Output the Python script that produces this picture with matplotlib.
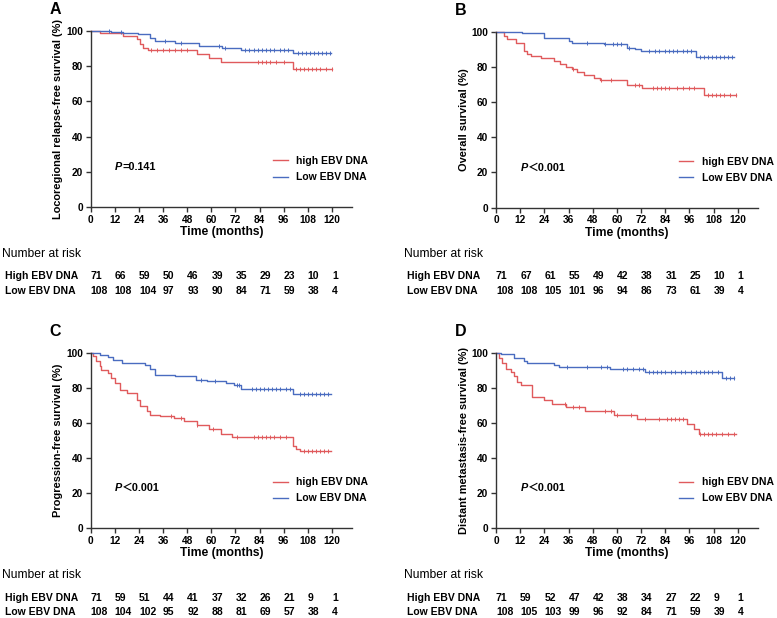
import numpy as np
import matplotlib
matplotlib.use("Agg")
import matplotlib.pyplot as plt
from matplotlib.transforms import blended_transform_factory

plt.rcParams['font.family'] = ['Liberation Sans', 'Noto Sans CJK SC', 'DejaVu Sans']

RED = '#e05a5c'
BLUE = '#4a6cc0'
AXC = '#333333'

# ---- data (time in months, survival in %) ----
a_high_t = [0, 4.5, 16, 23, 24.5, 26, 28.7, 53, 58.8, 64.7, 100.6]
a_high_s = [100, 99, 97.2, 95.3, 92.4, 90.5, 89.2, 86.7, 84.9, 82.6, 78.2]
a_high_end = 120
a_low_t = [0, 10.3, 16.2, 23.7, 29.6, 32, 42, 53.8, 65.5, 74.7, 100.6]
a_low_s = [100, 99.4, 99, 98.2, 96.2, 94.3, 93.4, 91.5, 90.5, 89.2, 87.7]
a_low_end = 119.4
a_high_cens = [30, 33, 36, 39, 42, 45, 48, 83, 85, 87, 89, 92, 96, 102, 104, 106, 108, 110, 112, 114, 117, 120]
a_low_cens = [9, 15, 37, 45, 64, 67, 77, 79, 81, 83, 85, 87, 89, 91, 94, 96, 98, 103, 105, 107, 109, 111, 113, 115, 117, 119]

b_high_t = [0, 4, 5.6, 9.8, 13.9, 15.5, 17.2, 22.2, 28.7, 32, 34.5, 37.8, 40.3, 43.6, 48.5, 51.8, 65, 72.5, 103]
b_high_s = [100, 97.5, 95.6, 93.7, 89, 87.1, 86.1, 84.8, 83.3, 81.4, 80, 78.5, 77.1, 75.6, 73.7, 72.4, 69.9, 68, 64.2]
b_high_end = 119.2
b_low_t = [0, 13, 23.9, 36.3, 37.9, 53.6, 65.1, 69.2, 71.7, 99]
b_low_s = [100, 99.1, 96.6, 94.7, 93.7, 92.8, 90.9, 89.9, 89, 85.6]
b_low_end = 118.2
b_high_cens = [38, 52, 57, 69, 71, 78, 80, 82, 84, 86, 90, 93, 96, 98, 105, 107, 109, 111, 113, 116, 119]
b_low_cens = [45, 54, 58, 60, 62, 66, 76, 79, 81, 84, 86, 88, 90, 93, 95, 97, 101, 103, 105, 107, 109, 111, 113, 115, 117]

c_high_t = [0, 1.2, 2.8, 4.5, 5.3, 8.7, 10.3, 12, 14.5, 17.9, 22.9, 24.5, 27.9, 29.6, 34.6, 41.3,
            46.3, 53, 58.8, 64.7, 70.5, 100.6, 102.3, 104]
c_high_s = [100, 97.9, 95.1, 92.2, 90.3, 88.4, 85.5, 82.7, 78.9, 76.9, 73.1, 69.4, 66.5, 64.6, 63.7, 62.7,
            61.1, 58.9, 56.6, 53.7, 51.8, 47, 45.1, 43.7]
c_high_end = 119.8
c_low_t = [0, 4.5, 8.7, 11.2, 15.4, 27.1, 29.6, 32.1, 42.1, 52.2, 58, 67.2, 71.4, 74.7, 100.6]
c_low_s = [100, 98.9, 97.4, 96, 94.1, 93.2, 90.9, 87.4, 86.5, 84.6, 83.6, 82.7, 81.3, 79.4, 76.6]
c_low_end = 119.4
c_high_cens = [40, 45, 53, 61, 73, 81, 83, 85, 87, 89, 91, 94, 97, 106, 108, 110, 112, 114, 116, 118]
c_low_cens = [55, 62, 73, 74, 80, 82, 84, 86, 88, 90, 92, 94, 97, 99, 104, 106, 108, 110, 112, 114, 116, 118]

d_high_t = [0, 1.5, 3.1, 4.8, 7.3, 8.9, 10.6, 12.2, 18, 23.8, 27.9, 34.5, 44.4, 58.4, 70, 94.8, 98.1, 100.5]
d_high_s = [100, 97.1, 93.9, 90.7, 88.8, 86.9, 83.4, 81.5, 74.9, 73, 70.9, 69, 66.5, 64.2, 62.3, 59.4, 56.6, 53.7]
d_high_end = 119.2
d_low_t = [0, 2.3, 8.9, 13.9, 15.5, 28.7, 31.2, 56.8, 74.1, 112.1]
d_low_s = [100, 99.1, 97.1, 95.3, 94.3, 93, 91.7, 90.5, 88.8, 85.4]
d_low_end = 118.2
d_high_cens = [34, 38, 41, 54, 57, 60, 67, 74, 81, 85, 87, 89, 91, 93, 101, 103, 105, 107, 109, 112, 115, 118]
d_low_cens = [35, 45, 52, 55, 63, 65, 68, 71, 73, 76, 78, 80, 82, 84, 87, 89, 92, 94, 97, 99, 101, 103,
              105, 107, 110, 114, 116, 118]

risk_times = [0, 12, 24, 36, 48, 60, 72, 84, 96, 108, 120]
a_risk_high = [71, 66, 59, 50, 46, 39, 35, 29, 23, 10, 1]
a_risk_low = [108, 108, 104, 97, 93, 90, 84, 71, 59, 38, 4]
b_risk_high = [71, 67, 61, 55, 49, 42, 38, 31, 25, 10, 1]
b_risk_low = [108, 108, 105, 101, 96, 94, 86, 73, 61, 39, 4]
c_risk_high = [71, 59, 51, 44, 41, 37, 32, 26, 21, 9, 1]
c_risk_low = [108, 104, 102, 95, 92, 88, 81, 69, 57, 38, 4]
d_risk_high = [71, 59, 52, 47, 42, 38, 34, 27, 22, 9, 1]
d_risk_low = [108, 105, 103, 99, 96, 92, 84, 71, 59, 39, 4]

panels = [
    ('A', 'Locoregional relapse-free survival (%)', 'P', '=0.141',
     (a_high_t, a_high_s, a_high_end, a_high_cens), (a_low_t, a_low_s, a_low_end, a_low_cens),
     a_risk_high, a_risk_low),
    ('B', 'Overall survival (%)', 'P', '\uff1c0.001',
     (b_high_t, b_high_s, b_high_end, b_high_cens), (b_low_t, b_low_s, b_low_end, b_low_cens),
     b_risk_high, b_risk_low),
    ('C', 'Progression-free survival (%)', 'P', '\uff1c0.001',
     (c_high_t, c_high_s, c_high_end, c_high_cens), (c_low_t, c_low_s, c_low_end, c_low_cens),
     c_risk_high, c_risk_low),
    ('D', 'Distant metastasis-free survival (%)', 'P', '\uff1c0.001',
     (d_high_t, d_high_s, d_high_end, d_high_cens), (d_low_t, d_low_s, d_low_end, d_low_cens),
     d_risk_high, d_risk_low),
]

W, H = 777, 618
fig = plt.figure(figsize=(W / 100, H / 100), dpi=100)

# axes boxes in pixels: (x of t=0, x right end, y of 100 %, y of 0 %)
boxes = [(90.7, 352, 31, 207), (496, 758, 31.7, 207.5),
         (90.7, 352, 352.7, 528), (496, 758, 352.7, 528)]
# y (px) for "Number at risk", high row, low row
table_y = [(254, 276, 291), (254, 276, 291), (575, 598, 612), (575, 598, 612)]
label_x = [2, 404, 2, 404]


def draw_curve(ax, t, s, end, cens, color, label):
    tt = list(t) + [end]
    ss = list(s) + [s[-1]]
    ax.step(tt, ss, where='post', color=color, lw=1.0, clip_on=False, label=label)
    idx = np.searchsorted(np.array(t), np.array(cens), side='right') - 1
    ys = np.array(s)[idx]
    ax.plot(cens, ys, ls='none', marker='|', ms=2.5, mew=0.7, color=color, clip_on=False)


for i, (letter, ylab, pch, ptxt, high, low, rh, rl) in enumerate(panels):
    x0, x1, ytop, ybot = boxes[i]
    ax = fig.add_axes([x0 / W, 1 - ybot / H, (x1 - x0) / W, (ybot - ytop) / H])
    draw_curve(ax, *high, RED, 'high EBV DNA')
    draw_curve(ax, *low, BLUE, 'Low EBV DNA')
    ax.set_xlim(0, 130)
    ax.set_ylim(0, 100)
    ax.set_xticks(risk_times)
    ax.set_yticks([0, 20, 40, 60, 80, 100])
    for sp in ['top', 'right']:
        ax.spines[sp].set_visible(False)
    for sp in ['left', 'bottom']:
        ax.spines[sp].set_linewidth(1.0)
        ax.spines[sp].set_color(AXC)
    ax.tick_params(direction='out', length=3.5, width=1.0, color=AXC, labelsize=7.3, pad=2)
    for lb in ax.get_xticklabels() + ax.get_yticklabels():
        lb.set_fontweight('bold')
    ax.set_xlabel('Time (months)', fontsize=8.7, fontweight='bold', labelpad=1)
    ax.set_ylabel(ylab, fontsize=7.9, fontweight='bold', labelpad=2)

    leg = ax.legend(loc='center left', bbox_to_anchor=(0.698, 0.215), frameon=False,
                    handlelength=1.4, handletextpad=0.8, labelspacing=0.6,
                    borderpad=0, borderaxespad=0, prop={'size': 7.5, 'weight': 'bold'})

    t1 = ax.text(0.093, 0.227, pch, transform=ax.transAxes, fontsize=7.8,
                 fontweight='bold', style='italic', va='center')
    ax.annotate(ptxt, xy=(1, 0.5), xycoords=t1, va='center', ha='left',
                fontsize=7.8, fontweight='bold')

    # panel letter
    fig.text((x0 - 41) / W, 1 - 10 / H - (ytop - 31) / H, letter, fontsize=11.5,
             fontweight='bold', va='center', ha='left')

    # number at risk table
    ny, hy, ly = table_y[i]
    tr = blended_transform_factory(ax.transData, fig.transFigure)
    fig.text(label_x[i] / W, 1 - ny / H, 'Number at risk', fontsize=8.7, va='center', ha='left')
    fig.text((label_x[i] + 3) / W, 1 - hy / H, 'High EBV DNA', fontsize=7.5,
             fontweight='bold', va='center', ha='left')
    fig.text((label_x[i] + 3) / W, 1 - ly / H, 'Low EBV DNA', fontsize=7.5,
             fontweight='bold', va='center', ha='left')
    for t, nh, nl in zip(risk_times, rh, rl):
        ax.text(t, 1 - hy / H, str(nh), transform=tr, fontsize=7.5, fontweight='bold',
                va='center', ha='left')
        ax.text(t, 1 - ly / H, str(nl), transform=tr, fontsize=7.5, fontweight='bold',
                va='center', ha='left')

fig.savefig('out.png', dpi=100)
